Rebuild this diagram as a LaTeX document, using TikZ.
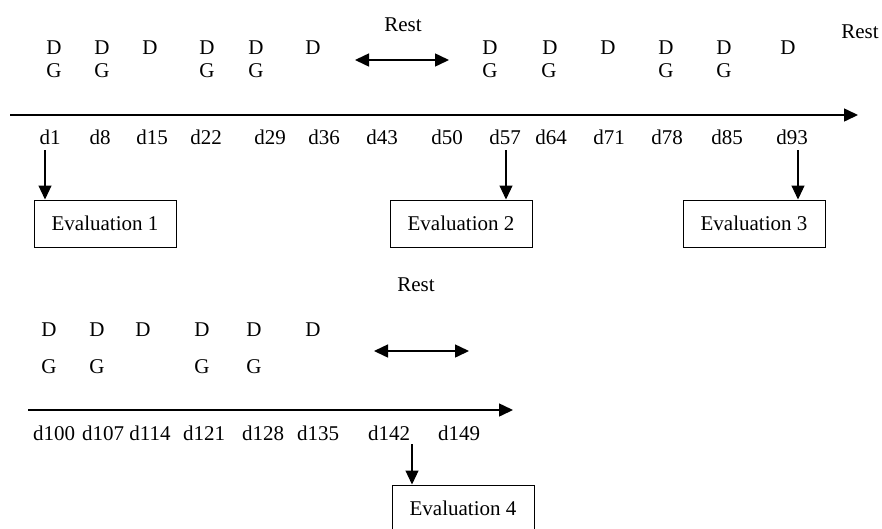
\documentclass[tikz,border=0pt]{standalone}
\usepackage{fontspec}
\setmainfont{Liberation Serif}
\usetikzlibrary{arrows.meta}
\begin{document}
\begin{tikzpicture}[x=1pt,y=-1pt,
  lbl/.style={inner sep=0pt,font=\fontsize{21}{25}\selectfont},
  evalbox/.style={draw,line width=1pt,minimum width=142pt,minimum height=47pt,inner sep=0pt,font=\fontsize{21}{25}\selectfont},
  axis/.style={line width=1.5pt,-{Triangle[width=13pt,length=14pt]}},
  conn/.style={line width=1.1pt,-{Triangle[width=13pt,length=14pt]}},
  restarrow/.style={line width=1.5pt,{Triangle[width=13pt,length=14pt]}-{Triangle[width=13pt,length=14pt]}}]
\useasboundingbox (0,0) rectangle (882,528);
% top axis
\coordinate (ta0) at (10,115);
\coordinate (ta1) at (858,115);
\draw[axis] (ta0) -- (ta1);
% top D / G
\foreach \n/\x in {1/54,2/102,3/150,4/207,5/256,6/313,7/490,8/550,9/608,10/666,11/724,12/788}
  \node[lbl] (D\n) at (\x,48) {D};
\foreach \n/\x in {1/54,2/102,4/207,5/256,7/490,8/549,10/666,11/724}
  \node[lbl] (G\n) at (\x,71) {G};
% rests top
\node[lbl] (rest1) at (403,25) {Rest};
\coordinate (ra0) at (355,60);
\coordinate (ra1) at (449,60);
\draw[restarrow] (ra0) -- (ra1);
\node[lbl] (rest2) at (860,32) {Rest};
% day labels top
\foreach \n/\x in {1/50,8/100,15/152,22/206,29/270,36/324,43/382,50/447,57/505,64/551,71/609,78/667,85/727,93/792}
  \node[lbl] (d\n) at (\x,137) {d\n};
% evaluation boxes
\node[evalbox] (e1) at (105,223.5) {Evaluation 1};
\node[evalbox] (e2) at (461,223.5) {Evaluation 2};
\node[evalbox] (e3) at (754,223.5) {Evaluation 3};
\coordinate (s1) at (45,150);
\coordinate (s2) at (506,150);
\coordinate (s3) at (798,150);
\draw[conn] (s1) -- (s1 |- e1.north);
\draw[conn] (s2) -- (s2 |- e2.north);
\draw[conn] (s3) -- (s3 |- e3.north);
% bottom
\node[lbl] (rest3) at (416,285) {Rest};
\coordinate (rb0) at (374,351);
\coordinate (rb1) at (469,351);
\draw[restarrow] (rb0) -- (rb1);
\foreach \n/\x in {1/49,2/97,3/143,4/202,5/254,6/313}
  \node[lbl] (bD\n) at (\x,330) {D};
\foreach \n/\x in {1/49,2/97,4/202,5/254}
  \node[lbl] (bG\n) at (\x,367) {G};
\coordinate (ba0) at (28,410);
\coordinate (ba1) at (513,410);
\draw[axis] (ba0) -- (ba1);
\foreach \n/\x in {100/54,107/103,114/150,121/204,128/263,135/318,142/389,149/459}
  \node[lbl] (d\n) at (\x,433) {d\n};
\node[evalbox] (e4) at (463,508.5) {Evaluation 4};
\coordinate (s4) at (412,444);
\draw[conn] (s4) -- (s4 |- e4.north);
\end{tikzpicture}
\end{document}
